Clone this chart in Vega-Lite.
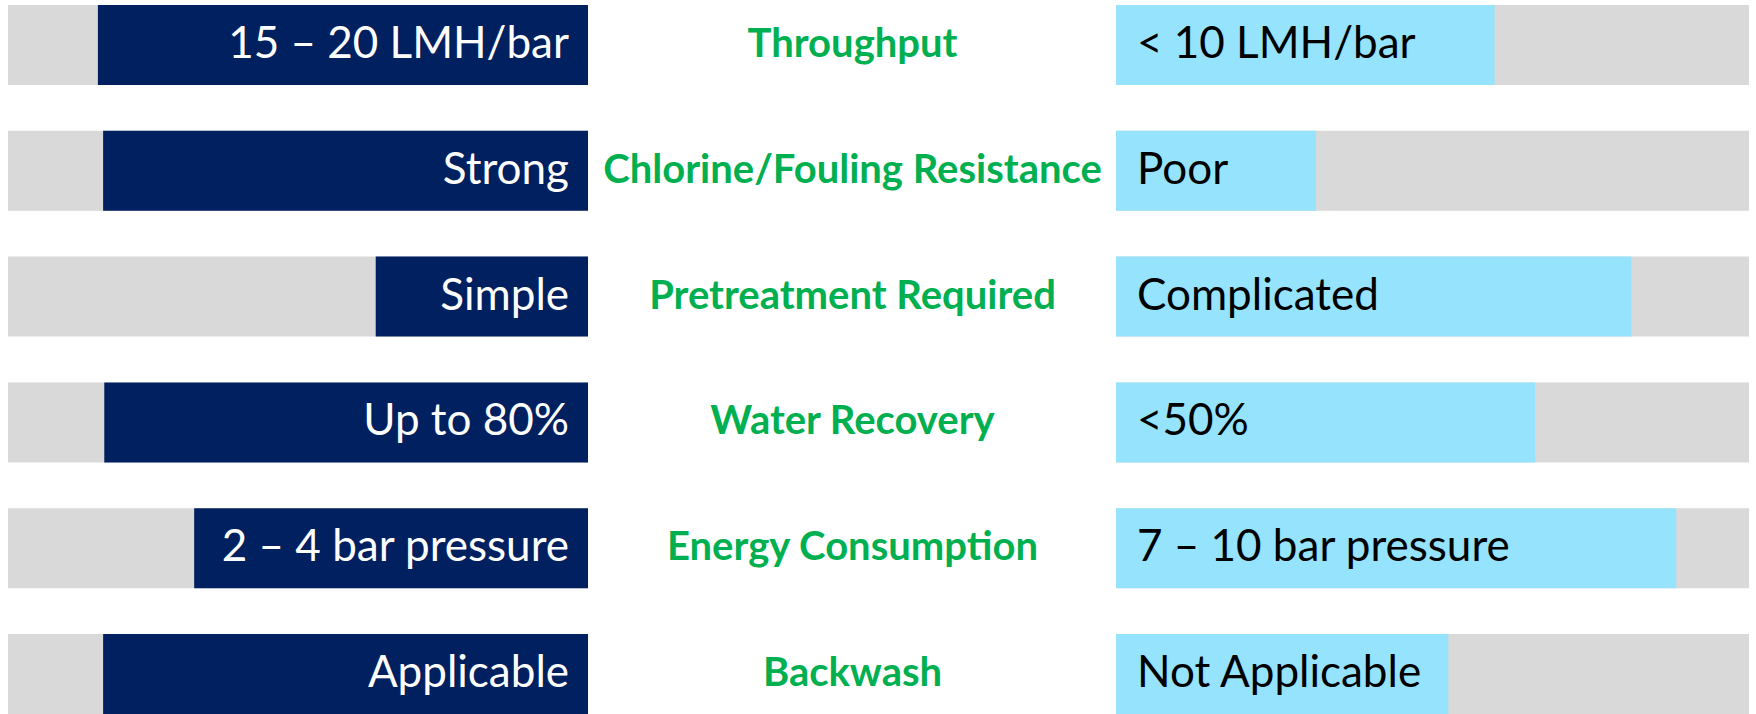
{
  "$schema": "https://vega.github.io/schema/vega-lite/v6.json",
  "background": "white",
  "padding": {"left": 8, "top": 0, "right": 0, "bottom": 0},
  "spacing": 528,
  "bounds": "flush",
  "data": {
    "values": [
      {"param": "Throughput", "left_label": "15 – 20 LMH/bar", "left_score": 84.5, "right_label": "< 10 LMH/bar", "right_score": 59.8},
      {"param": "Chlorine/Fouling Resistance", "left_label": "Strong", "left_score": 83.6, "right_label": "Poor", "right_score": 31.6},
      {"param": "Pretreatment Required", "left_label": "Simple", "left_score": 36.6, "right_label": "Complicated", "right_score": 81.4},
      {"param": "Water Recovery", "left_label": "Up to 80%", "left_score": 83.4, "right_label": "<50%", "right_score": 66.2},
      {"param": "Energy Consumption", "left_label": "2 – 4 bar pressure", "left_score": 67.9, "right_label": "7 – 10 bar pressure", "right_score": 88.5},
      {"param": "Backwash", "left_label": "Applicable", "left_score": 83.6, "right_label": "Not Applicable", "right_score": 52.5}
    ]
  },
  "hconcat": [
    {
      "width": 580,
      "height": 714,
      "layer": [
        {
          "mark": {"type": "bar", "color": "#D9D9D9"},
          "encoding": {
            "y": {"field": "param", "type": "nominal", "sort": null, "axis": null,
                  "scale": {"type": "band", "paddingInner": 0.364, "paddingOuter": 0.02, "align": 1, "round": false}},
            "x": {"datum": 100, "type": "quantitative", "axis": null, "scale": {"domain": [0, 100], "reverse": true, "nice": false, "zero": true}}
          }
        },
        {
          "mark": {"type": "bar", "color": "#002060"},
          "encoding": {
            "y": {"field": "param", "type": "nominal", "sort": null},
            "x": {"field": "left_score", "type": "quantitative"}
          }
        },
        {
          "mark": {"type": "text", "align": "right", "baseline": "middle", "dx": -19, "font": "Lato", "fontSize": 44, "color": "white"},
          "encoding": {
            "y": {"field": "param", "type": "nominal", "sort": null},
            "x": {"datum": 0, "type": "quantitative"},
            "text": {"field": "left_label"}
          }
        }
      ]
    },
    {
      "width": 633,
      "height": 714,
      "layer": [
        {
          "mark": {"type": "bar", "color": "#D9D9D9"},
          "encoding": {
            "y": {"field": "param", "type": "nominal", "sort": null,
                  "scale": {"type": "band", "paddingInner": 0.364, "paddingOuter": 0.02, "align": 1, "round": false},
                  "axis": {"title": null, "domain": false, "ticks": false, "labelAlign": "center", "labelPadding": 264,
                           "labelFont": "Lato", "labelFontWeight": "bold", "labelFontSize": 40, "labelColor": "#00B050",
                           "labelLimit": 0, "labelBaseline": "middle"}},
            "x": {"datum": 100, "type": "quantitative", "axis": null, "scale": {"domain": [0, 100], "nice": false, "zero": true}}
          }
        },
        {
          "mark": {"type": "bar", "color": "#95E3FC"},
          "encoding": {
            "y": {"field": "param", "type": "nominal", "sort": null},
            "x": {"field": "right_score", "type": "quantitative"}
          }
        },
        {
          "mark": {"type": "text", "align": "left", "baseline": "middle", "dx": 21, "font": "Lato", "fontSize": 44, "color": "black"},
          "encoding": {
            "y": {"field": "param", "type": "nominal", "sort": null},
            "x": {"datum": 0, "type": "quantitative"},
            "text": {"field": "right_label"}
          }
        }
      ]
    }
  ],
  "config": {"view": {"stroke": null}}
}
